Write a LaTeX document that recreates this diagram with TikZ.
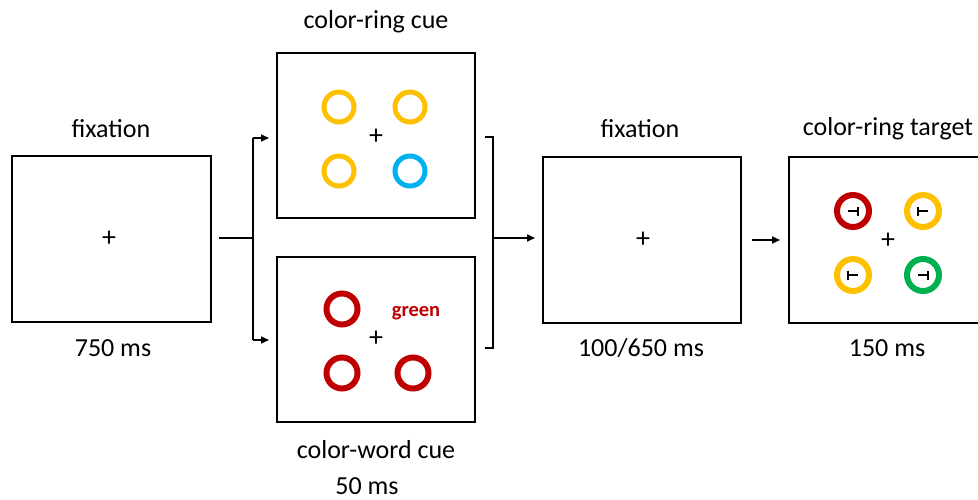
\documentclass[tikz,border=0pt]{standalone}
\usepackage{fontspec}
\setmainfont{Carlito}
\usetikzlibrary{arrows.meta}
\definecolor{ringyellow}{HTML}{FFC000}
\definecolor{ringblue}{HTML}{00B0F0}
\definecolor{ringred}{HTML}{C00000}
\definecolor{ringgreen}{HTML}{00B050}
\begin{document}
\begin{tikzpicture}[x=1pt,y=-1pt,
  screen/.style={draw=black,line width=2pt,fill=white},
  lbl/.style={font=\fontsize{26}{30}\selectfont,inner sep=0pt},
  fixcross/.style={font=\fontsize{28}{30}\selectfont,inner sep=0pt},
  cuering/.style={line width=5pt},
  tgtring/.style={line width=6pt},
  conn/.style={line width=1.6pt},
  arr/.style={conn,-{Triangle[length=8pt,width=7pt]}},
  tbar/.style={line width=2.2pt}
]
\clip (0,0) rectangle (978,499);
\fill[white] (0,0) rectangle (978,499);

% screens
\draw[screen] (12,156) rectangle (211,322);
\draw[screen] (277,53) rectangle (475,218);
\draw[screen] (277,257) rectangle (475,422);
\draw[screen] (543,157) rectangle (741,323);
\draw[screen] (789,157) rectangle (992,323);

% fixation crosses
\node[fixcross] (c1) at (109,239) {+};
\node[fixcross] (c2) at (376,137) {+};
\node[fixcross] (c3) at (376,339) {+};
\node[fixcross] (c4) at (643,240) {+};
\node[fixcross] (c5) at (888,241) {+};

% color-ring cue
\draw[cuering,ringyellow] (339,107) circle (15);
\draw[cuering,ringyellow] (410,107) circle (15);
\draw[cuering,ringyellow] (339,171) circle (15);
\draw[cuering,ringblue]   (410,171) circle (15);

% color-word cue
\draw[tgtring,ringred] (342,309) circle (15.5);
\draw[tgtring,ringred] (342,373) circle (15.5);
\draw[tgtring,ringred] (413,373) circle (15.5);
\node[inner sep=0pt,text=ringred,font=\fontsize{20.5}{24}\selectfont\bfseries] (word) at (416,313) {green};

% color-ring target with rotated T probes
\foreach \cx/\cy/\col/\dir in {853/211/ringred/1, 923/211/ringyellow/-1, 853/275/ringyellow/-1, 923/275/ringgreen/1}{
  \draw[tgtring,\col] (\cx,\cy) circle (16);
  \draw[tbar] (\cx-5,\cy) -- (\cx+5,\cy);
  \draw[tbar] (\cx+\dir*5,\cy-4.5) -- (\cx+\dir*5,\cy+4.5);
}

% labels
\node[lbl] (t1) at (111,129) {fixation};
\node[lbl] (d1) at (113,348) {750 ms};
\node[lbl] (t2) at (376,22) {color-ring cue};
\node[lbl] (t3) at (376,450) {color-word cue};
\node[lbl] (d3) at (367,486) {50 ms};
\node[lbl] (t4) at (640,129) {fixation};
\node[lbl] (d4) at (641,348) {100/650 ms};
\node[lbl] (t5) at (888,129) {color-ring target};
\node[lbl] (d5) at (887,348) {150 ms};

% split connector
\coordinate (sa) at (219,238);
\coordinate (sb) at (253,238);
\coordinate (su) at (253,138);
\coordinate (sd) at (253,340);
\coordinate (eu) at (269,138);
\coordinate (ed) at (269,340);
\draw[conn] (sa) -- (sb);
\draw[arr] (su) -- (sd) (su) -- (eu);
\draw[arr] (sd) -- (ed);

% merge bracket
\coordinate (ma) at (485,137);
\coordinate (mb) at (493,137);
\coordinate (mc) at (493,348);
\coordinate (md) at (485,348);
\coordinate (mm) at (493,238);
\coordinate (me) at (535,238);
\draw[conn] (ma) -- (mb) -- (mc) -- (md);
\draw[arr] (mm) -- (me);

% fixation to target
\coordinate (fa) at (752,240);
\coordinate (fb) at (780,240);
\draw[arr] (fa) -- (fb);
\end{tikzpicture}
\end{document}
